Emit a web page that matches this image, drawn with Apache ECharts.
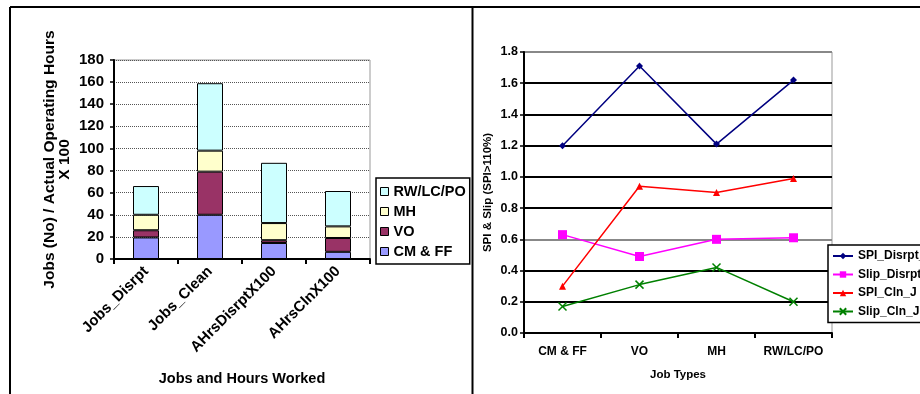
<!DOCTYPE html>
<html><head><meta charset="utf-8">
<script src="https://cdn.jsdelivr.net/npm/echarts@6/dist/echarts.min.js"></script>
<style>html,body{margin:0;padding:0;background:#fff}#c{width:920px;height:394px}</style>
</head><body><div id="c"></div>
<script>
// ---- Left chart data ----
const barCategories = ['Jobs_Disrpt', 'Jobs_Clean', 'AHrsDisrptX100', 'AHrsClnX100'];
const cmff   = [19.5, 40, 14.5, 6.5];
const vo     = [6.5, 39, 2.5, 12.5];
const mh     = [14, 19, 15.5, 10.5];
const rwlcpo = [26, 61, 54.5, 32];
const barSeriesNames = ['CM & FF', 'VO', 'MH', 'RW/LC/PO'];
const leftTicks = [0, 180, 20];

// ---- Right chart data ----
const jobTypes   = ['CM & FF', 'VO', 'MH', 'RW/LC/PO'];
const spiDisrpt  = [1.20, 1.71, 1.21, 1.62];
const slipDisrpt = [0.63, 0.49, 0.60, 0.61];
const spiCln     = [0.30, 0.94, 0.90, 0.99];
const slipCln    = [0.17, 0.31, 0.42, 0.20];
const lineSeriesNames = ['SPI_Disrpt_J', 'Slip_Disrpt_J', 'SPI_Cln_J', 'Slip_Cln_J'];
const rightTicks = [0, 1.8, 0.2];

const FONT = "'Liberation Sans', Arial, sans-serif";
const chart = echarts.init(document.getElementById('c'), null, {renderer: 'canvas'});

const barColors = ['#9999FF', '#993366', '#FFFFCC', '#CCFFFF'];
const barData = [cmff, vo, mh, rwlcpo];
const lineData = [spiDisrpt, slipDisrpt, spiCln, slipCln];
const lineColors = ['#000080', '#FF00FF', '#FF0000', '#008000'];
const lineSymbols = ['diamond', 'rect', 'triangle', 'path://M0,0L10,10M10,0L0,10'];
const lineSymbolSizes = [7, 9, 7, 8];

const series = [];
barSeriesNames.forEach((n, i) => {
  series.push({
    name: n, type: 'bar', stack: 'total', xAxisIndex: 0, yAxisIndex: 0,
    data: barData[i], barWidth: 26,
    itemStyle: {color: barColors[i], borderColor: '#000', borderWidth: 1}
  });
});
lineSeriesNames.forEach((n, i) => {
  series.push({
    name: n, type: 'line', xAxisIndex: 1, yAxisIndex: 1,
    data: lineData[i], symbol: lineSymbols[i], symbolSize: lineSymbolSizes[i],
    showSymbol: true,
    lineStyle: {color: lineColors[i], width: 1.5},
    itemStyle: {color: lineColors[i], borderColor: lineColors[i], borderWidth: i === 3 ? 1.5 : 0}
  });
});

const option = {
  animation: false,
  backgroundColor: '#fff',
  textStyle: {fontFamily: FONT},
  grid: [
    {left: 114, top: 60, width: 256, height: 199, show: true, borderColor: '#999', borderWidth: 1},
    {left: 524, top: 52, width: 308, height: 281, show: true, borderColor: '#999', borderWidth: 1}
  ],
  xAxis: [
    {
      type: 'category', gridIndex: 0, data: barCategories,
      axisLine: {lineStyle: {color: '#000', width: 2}},
      axisTick: {show: true, length: 5, lineStyle: {color: '#000', width: 2}},
      axisLabel: {interval: 0, rotate: 45, margin: 10, color: '#000', fontWeight: 'bold', fontSize: 15, fontFamily: FONT},
      name: 'Jobs and Hours Worked', nameLocation: 'middle', nameGap: 112,
      nameTextStyle: {color: '#000', fontWeight: 'bold', fontSize: 14.5, fontFamily: FONT}
    },
    {
      type: 'category', gridIndex: 1, data: jobTypes,
      axisLine: {lineStyle: {color: '#000', width: 2}},
      axisTick: {show: true, length: 5, lineStyle: {color: '#000', width: 2}},
      axisLabel: {interval: 0, margin: 13, color: '#000', fontWeight: 'bold', fontSize: 12, fontFamily: FONT},
      name: 'Job Types', nameLocation: 'middle', nameGap: 36,
      nameTextStyle: {color: '#000', fontWeight: 'bold', fontSize: 11.5, fontFamily: FONT}
    }
  ],
  yAxis: [
    {
      type: 'value', gridIndex: 0, min: leftTicks[0], max: leftTicks[1], interval: leftTicks[2],
      axisLine: {show: true, lineStyle: {color: '#000', width: 2}},
      axisTick: {show: true, length: 4, lineStyle: {color: '#000', width: 1.5}},
      axisLabel: {margin: 10, color: '#000', fontWeight: 'bold', fontSize: 15, fontFamily: FONT},
      splitLine: {show: true, lineStyle: {color: '#555', width: 1, type: 'dotted'}},
      name: 'Jobs (No) / Actual Operating Hours\nX 100', nameLocation: 'middle', nameRotate: 90, nameGap: 42,
      nameTextStyle: {color: '#000', fontWeight: 'bold', fontSize: 15.5, fontFamily: FONT, lineHeight: 15, align: 'center'}
    },
    {
      type: 'value', gridIndex: 1, min: rightTicks[0], max: rightTicks[1], interval: rightTicks[2],
      axisLine: {show: true, lineStyle: {color: '#000', width: 2}},
      axisTick: {show: true, length: 4, lineStyle: {color: '#000', width: 1.5}},
      axisLabel: {margin: 6, color: '#000', fontWeight: 'bold', fontSize: 12.5, fontFamily: FONT,
                  formatter: v => v.toFixed(1)},
      splitLine: {show: true, lineStyle: {width: 2,
        color: ['#888', '#000', '#000', '#888', '#000', '#000', '#000', '#000', '#000', '#888']}},
      name: 'SPI & Slip (SPI>110%)', nameLocation: 'middle', nameRotate: 90, nameGap: 30,
      nameTextStyle: {color: '#000', fontWeight: 'bold', fontSize: 11.5, fontFamily: FONT}
    }
  ],
  legend: [
    {
      data: ['RW/LC/PO', 'MH', 'VO', 'CM & FF'],
      orient: 'vertical', left: 376, top: 178,
      backgroundColor: '#fff', borderColor: '#000', borderWidth: 1.5,
      padding: [6, 4, 5, 4], itemGap: 5, itemWidth: 8, itemHeight: 8, icon: 'rect',
      itemStyle: {borderColor: '#000', borderWidth: 1},
      textStyle: {color: '#000', fontWeight: 'bold', fontSize: 14.5, fontFamily: FONT}
    },
    {
      data: lineSeriesNames,
      orient: 'vertical', left: 828, top: 245,
      backgroundColor: '#fff', borderColor: '#000', borderWidth: 1.5,
      padding: [5, 4, 5, 4], itemGap: 6.5, itemWidth: 20, itemHeight: 8,
      textStyle: {color: '#000', fontWeight: 'bold', fontSize: 12, fontFamily: FONT}
    }
  ],
  graphic: [
    {type: 'rect', z: 100, shape: {x: 473, y: 175, width: 7, height: 92}, style: {fill: '#fff'}},
    {type: 'line', z: 101, shape: {x1: 10, y1: 7, x2: 920, y2: 7}, style: {stroke: '#000', lineWidth: 2}},
    {type: 'line', z: 101, shape: {x1: 10, y1: 7, x2: 10, y2: 394}, style: {stroke: '#000', lineWidth: 2}},
    {type: 'line', z: 101, shape: {x1: 472.5, y1: 7, x2: 472.5, y2: 394}, style: {stroke: '#000', lineWidth: 2}}
  ],
  series: series
};
chart.setOption(option);
</script>
</body></html>
